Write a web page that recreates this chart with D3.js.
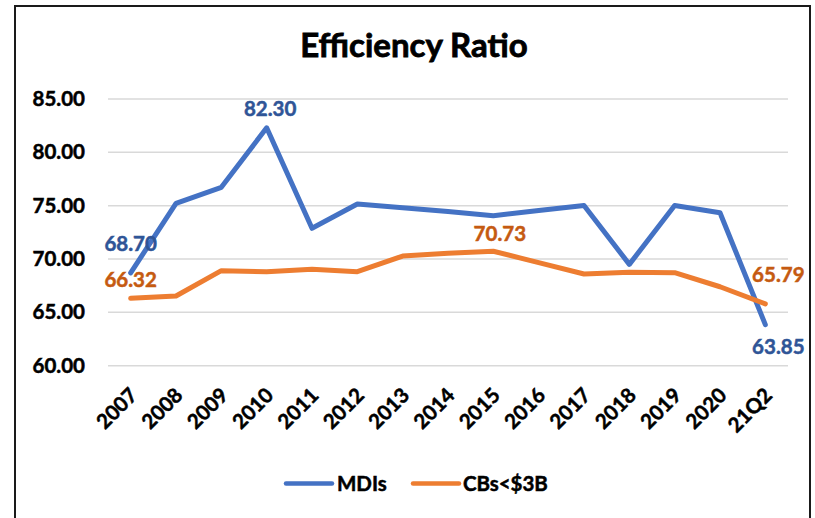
<!DOCTYPE html>
<html>
<head>
<meta charset="utf-8">
<script src="https://cdn.jsdelivr.net/npm/d3@7/dist/d3.min.js"></script>
<style>
  html, body { margin: 0; padding: 0; background: #fff; }
  svg { display: block; font-family: Lato, "Open Sans", sans-serif; font-weight: 700; }
</style>
</head>
<body>
<svg id="chart" width="815" height="518"></svg>
<script>
// Efficiency ratio by year: MDIs vs community banks under $3B
const categories = ["2007","2008","2009","2010","2011","2012","2013","2014","2015","2016","2017","2018","2019","2020","21Q2"];
const mdis = [68.70, 75.22, 76.72, 82.30, 72.88, 75.16, 74.80, 74.45, 74.06, 74.55, 75.02, 69.50, 75.02, 74.34, 63.85];
const cbs  = [66.32, 66.53, 68.91, 68.81, 69.03, 68.81, 70.28, 70.53, 70.73, 69.66, 68.60, 68.75, 68.72, 67.40, 65.79];
const yTicks = [60, 65, 70, 75, 80, 85];
const seriesNames = ["MDIs", "CBs<$3B"];

const lineColors = ["#4472C4", "#ED7D31"];
const labelColors = ["#2F5597", "#C55A11"];

const svg = d3.select("#chart");

// frame
svg.append("rect")
  .attr("x", 15).attr("y", 6).attr("width", 795).attr("height", 530)
  .attr("fill", "none").attr("stroke", "#1a1a1a").attr("stroke-width", 2);

const plot = { left: 108, right: 788, top: 99, bottom: 365.7 };

const x = d3.scaleBand().domain(categories).range([plot.left, plot.right]);
const y = d3.scaleLinear().domain([60, 85]).range([plot.bottom, plot.top]);
const cx = c => x(c) + x.bandwidth() / 2;

// heavier glyphs, closer to the bold face used in the dashboard
const embolden = (sel, color, w) => sel.attr("stroke", color).attr("stroke-width", w).attr("paint-order", "stroke");

// title
embolden(svg.append("text")
  .attr("x", 414).attr("y", 57)
  .attr("text-anchor", "middle")
  .attr("font-size", 33)
  .attr("fill", "#000")
  .text("Efficiency Ratio"), "#000", 0.8);

// gridlines
svg.append("g")
  .selectAll("line")
  .data(yTicks)
  .join("line")
  .attr("x1", plot.left).attr("x2", plot.right)
  .attr("y1", d => y(d)).attr("y2", d => y(d))
  .attr("stroke", "#D9D9D9").attr("stroke-width", 1.5);

// y axis labels
const yAxis = svg.append("g")
  .attr("transform", `translate(${plot.left},0)`)
  .call(d3.axisLeft(y).tickValues(yTicks).tickFormat(d3.format(".2f")).tickSize(0).tickPadding(23));
yAxis.select(".domain").remove();
embolden(yAxis.selectAll("text")
  .attr("font-family", "Lato, sans-serif").attr("font-weight", 700)
  .attr("font-size", 20.5).attr("fill", "#000"), "#000", 0.5);

// x axis labels, rotated
const xAxis = svg.append("g")
  .attr("transform", `translate(0,${plot.bottom})`)
  .call(d3.axisBottom(x).tickSize(0).tickPadding(0));
xAxis.select(".domain").remove();
embolden(xAxis.selectAll("text")
  .attr("font-family", "Lato, sans-serif").attr("font-weight", 700)
  .attr("font-size", 20.5).attr("fill", "#000")
  .attr("text-anchor", "end")
  .attr("dy", 0)
  .attr("y", 0)
  .attr("transform", "translate(8,31) rotate(-45)"), "#000", 0.5);

// lines
const line = d3.line()
  .x((d, i) => cx(categories[i]))
  .y(d => y(d));

[mdis, cbs].forEach((vals, s) => {
  svg.append("path")
    .datum(vals)
    .attr("d", line)
    .attr("fill", "none")
    .attr("stroke", lineColors[s])
    .attr("stroke-width", 5)
    .attr("stroke-linejoin", "round")
    .attr("stroke-linecap", "round");
});

// data labels: [series, index, dx, dy from point to baseline]
const labelSpecs = [
  [0, 0, 0, -22],
  [1, 0, 0, -11.5],
  [0, 3, 3.5, -12],
  [1, 8, 6.5, -10],
  [1, 14, 13, -21.5],
  [0, 14, 13, 29.5]
];
const seriesVals = [mdis, cbs];
svg.append("g")
  .selectAll("text")
  .data(labelSpecs)
  .join("text")
  .attr("x", d => cx(categories[d[1]]) + d[2])
  .attr("y", d => y(seriesVals[d[0]][d[1]]) + d[3])
  .attr("text-anchor", "middle")
  .attr("font-size", 20.5)
  .attr("fill", d => labelColors[d[0]])
  .attr("stroke", d => labelColors[d[0]])
  .attr("stroke-width", 0.5)
  .attr("paint-order", "stroke")
  .text(d => seriesVals[d[0]][d[1]].toFixed(2));

// legend
const legendItems = [
  { x1: 286, x2: 332, tx: 337 },
  { x1: 413, x2: 459, tx: 463 }
];
const lg = svg.append("g");
legendItems.forEach((it, i) => {
  lg.append("line")
    .attr("x1", it.x1).attr("x2", it.x2)
    .attr("y1", 483.5).attr("y2", 483.5)
    .attr("stroke", lineColors[i]).attr("stroke-width", 4.5)
    .attr("stroke-linecap", "round");
  embolden(lg.append("text")
    .attr("x", it.tx).attr("y", 491)
    .attr("font-size", 20.5).attr("fill", "#000")
    .text(seriesNames[i]), "#000", 0.5);
});
</script>
</body>
</html>
